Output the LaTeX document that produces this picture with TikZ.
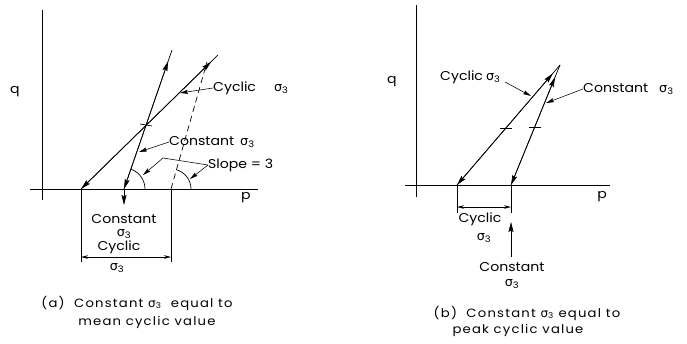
\documentclass[tikz,border=0pt]{standalone}
\usepackage{fontspec}
\setmainfont{Poppins}[FakeStretch=1.1]
\newfontfamily\gkfont{DejaVu Sans}
\newcommand\sigt{{\gkfont σ}\textsubscript{3}}
\usetikzlibrary{arrows.meta,calc}
\tikzset{
  ln/.style={line width=0.7pt},
  tip/.style={-{Stealth[length=10pt,width=5pt,inset=1.5pt]}},
  ltip/.style={-{Stealth[length=8pt,width=4pt,inset=1.2pt]}},
  tips/.style={{Stealth[length=7pt,width=3.5pt]}-{Stealth[length=7pt,width=3.5pt]}},
  lbl/.style={font=\fontsize{12.8}{14}\selectfont, inner sep=0pt},
  captxt/.style={font=\fontsize{12}{14}\selectfont\addfontfeature{LetterSpace=10}, inner sep=0pt},
  lead/.style={line width=0.55pt}
}
\begin{document}
\begin{tikzpicture}[x=1pt,y=-1pt]
\useasboundingbox (0,0) rectangle (687,343);
% ---------------- panel (a) ----------------
\coordinate (aQt) at (42,10); \coordinate (aQb) at (42,200);
\coordinate (aPl) at (30,189); \coordinate (aPr) at (258,189);
\draw[ln] (aQt) -- (aQb);
\draw[ln] (aPl) -- (aPr);
\node[lbl] (aq) at (15,92) {q};
\node[lbl] (ap) at (246,198) {p};
% cyclic line
\coordinate (aC0) at (81,189); \coordinate (aC1) at (218,55);
\coordinate (aCm) at ($(aC0)!0.95!(aC1)$);
\draw[ln,tip] (aC1) -- (aC0);
\draw[ln,tip] (aC0) -- (aCm);
% constant line
\coordinate (aK0) at (124,189); \coordinate (aK1) at (172,50);
\coordinate (aKm) at ($(aK0)!0.92!(aK1)$);
\draw[ln,tip] (aK1) -- (aK0);
\draw[ln,tip] (aK0) -- (aKm);
\coordinate (aK2) at (124,205);
\draw[ln,tip] (aK0) -- (aK2);
% dashed
\coordinate (aD0) at (171,189); \coordinate (aD1) at (207,62);
\draw[ln,dash pattern=on 6pt off 4pt] (aD0) -- (aD1);
% intersection tick
\coordinate (aX) at (146,125);
\draw[ln] ($(aX)+(-6,-1)$) -- ($(aX)+(6,1)$);
% arcs
\draw[ln] (145,189) arc[start angle=0,end angle=-71,radius=21];
\draw[ln] (191,189) arc[start angle=0,end angle=-74,radius=20];
% labels with leaders
\node[lbl,anchor=west] (aCyc) at (213,88) {Cyclic\hspace{18pt}\sigt};
\coordinate (aCycE) at (180,93);
\draw[lead,ltip] (aCyc.west) -- (aCycE);
\node[lbl,anchor=west] (aCon) at (169,142) {Constant\hspace{6pt}\sigt};
\coordinate (aConE) at (139,152);
\draw[lead,ltip] (aCon.west) -- (aConE);
\node[lbl,anchor=west] (aSl) at (208,165) {Slope = 3};
\coordinate (aSB) at (163,158); \coordinate (aSE1) at (143,175); \coordinate (aSE2) at (190,179);
\draw[lead,ltip] (aSl.west) -- (aSB) -- (aSE1);
\draw[lead,ltip] (aSl.west) -- (aSE2);
% dimension
\draw[lead] (aC0) -- (81,262);
\draw[lead] (aD0) -- (171,262);
\coordinate (aDL) at (81,257); \coordinate (aDR) at (171,257);
\draw[lead,tips] (aDL) -- (aDR);
\node[lbl] (aT1) at (124,219) {Constant};
\node[lbl] (aT2) at (124,234) {\sigt};
\node[lbl] (aT3) at (119,247) {Cyclic};
\node[lbl] (aT4) at (117,268) {\sigt};
\node[captxt] (aCap1) at (137,303) {(a)\ \ Constant \sigt\ \ equal to};
\node[captxt] (aCap2) at (147,322) {mean cyclic value};
% ---------------- panel (b) ----------------
\coordinate (bQt) at (416,5); \coordinate (bQb) at (416,197);
\coordinate (bPl) at (405,185); \coordinate (bPr) at (610,185);
\draw[ln] (bQt) -- (bQb);
\draw[ln] (bPl) -- (bPr);
\node[lbl] (bq) at (392,82) {q};
\node[lbl] (bp) at (602,197) {p};
\coordinate (bTop) at (560,65);
\coordinate (bC0) at (457,185); \coordinate (bK0) at (511,185);
\coordinate (bCm) at ($(bC0)!0.93!(bTop)$);
\coordinate (bKm) at ($(bK0)!0.9!(bTop)$);
\draw[ln,tip] (bTop) -- (bC0);
\draw[ln,tip] (bC0) -- (bCm);
\draw[ln,tip] (bTop) -- (bK0);
\draw[ln,tip] (bK0) -- (bKm);
% ticks
\coordinate (bX1) at (506,128); \coordinate (bX2) at (535,127);
\draw[ln] ($(bX1)+(-6,0)$) -- ($(bX1)+(6,0)$);
\draw[ln] ($(bX2)+(-6,0)$) -- ($(bX2)+(6,0)$);
% labels with leaders
\node[lbl,anchor=west] (bCyc) at (440,77) {Cyclic\hspace{3pt}\sigt};
\coordinate (bCycS) at (505,82); \coordinate (bCycE) at (531,96);
\draw[lead,ltip] (bCycS) -- (bCycE);
\node[lbl,anchor=west] (bCon) at (583,89) {Constant\hspace{11pt}\sigt};
\coordinate (bConE) at (546,103);
\draw[lead,ltip] (bCon.west) -- (bConE);
% dimension
\draw[lead] (bC0) -- (457,213);
\draw[lead] (bK0) -- (511,213);
\coordinate (bDL) at (457,207); \coordinate (bDR) at (511,207);
\draw[lead,tips] (bDL) -- (bDR);
\node[lbl] (bT1) at (480,219) {Cyclic};
\node[lbl] (bT2) at (484,238) {\sigt};
\coordinate (bUp0) at (511,257); \coordinate (bUp1) at (511,222);
\draw[lead,tip] (bUp0) -- (bUp1);
\node[lbl] (bT3) at (512,267) {Constant};
\node[lbl] (bT4) at (512,284) {\sigt};
\node[captxt] (bCap1) at (527,313) {(b)\ \ Constant \sigt\ equal to};
\node[captxt] (bCap2) at (518,330) {peak cyclic value};
\end{tikzpicture}
\end{document}
